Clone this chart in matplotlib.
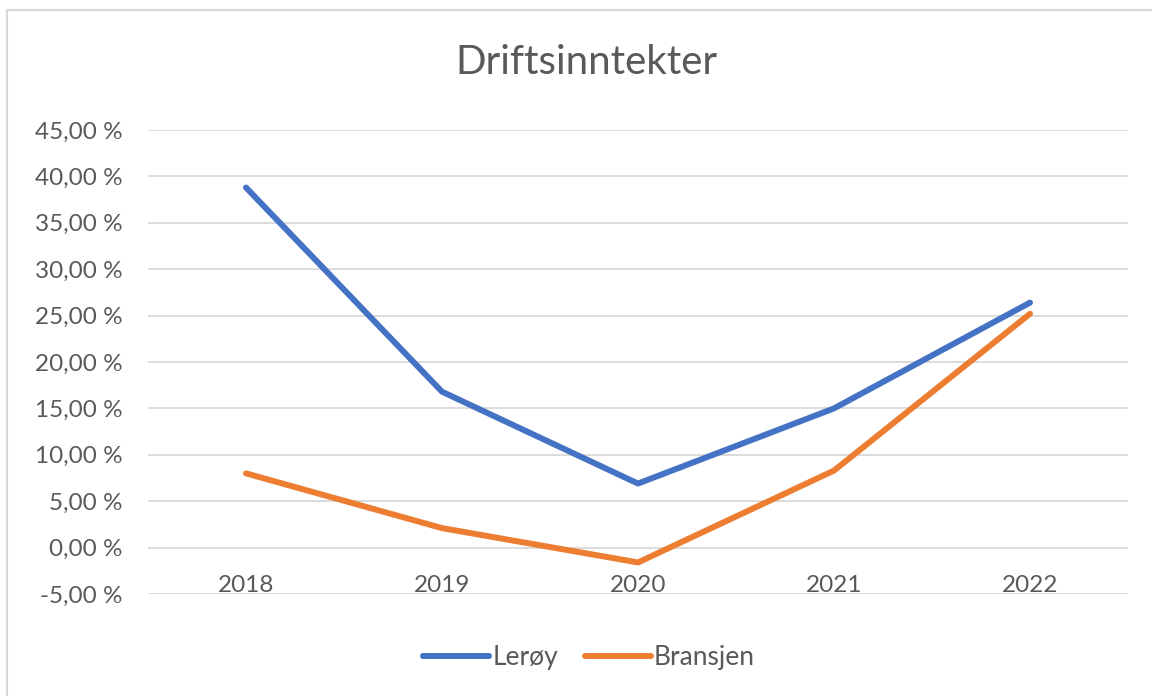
import matplotlib
matplotlib.use("Agg")
import matplotlib.pyplot as plt
from matplotlib.patches import Rectangle
from matplotlib.ticker import FuncFormatter

years = ["2018", "2019", "2020", "2021", "2022"]
leroy = [38.8, 16.8, 6.9, 15.0, 26.4]
bransjen = [8.0, 2.1, -1.6, 8.3, 25.2]
yticks = [-5, 0, 5, 10, 15, 20, 25, 30, 35, 40, 45]

plt.rcParams['font.family'] = ['Lato', 'DejaVu Sans']
txt = '#595959'

fig = plt.figure(figsize=(11.52, 6.96), dpi=100)
ax = fig.add_axes([148/1152, 1 - 594/696, (1128 - 148)/1152, (594 - 130)/696])

x = list(range(len(years)))
ax.plot(x, leroy, color='#4472C4', lw=4.3, solid_capstyle='round', solid_joinstyle='round', label='Lerøy', zorder=3)
ax.plot(x, bransjen, color='#ED7D31', lw=4.3, solid_capstyle='round', solid_joinstyle='round', label='Bransjen', zorder=3)

ax.set_xlim(-0.5, len(years) - 0.5)
ax.set_ylim(-5, 45)
ax.set_yticks(yticks)
ax.yaxis.set_major_formatter(FuncFormatter(lambda v, p: f"{v:.2f}".replace('.', ',') + " %"))
ax.grid(axis='y', color='#d9d9d9', lw=1.3)
ax.set_axisbelow(True)
for s in ax.spines.values():
    s.set_visible(False)
ax.spines['bottom'].set_position(('data', 0))
ax.set_xticks(x)
ax.set_xticklabels(years)
ax.tick_params(axis='x', length=0, pad=20, labelsize=17.5, labelcolor=txt)
ax.tick_params(axis='y', length=0, pad=18.5, labelsize=17.5, labelcolor=txt)

fig.text(586/1152, 1 - 63/696, "Driftsinntekter", ha='center', va='center', fontsize=29, color=txt)

leg = fig.legend(loc='center', bbox_to_anchor=(589/1152, 1 - 658/696), ncol=2, frameon=False,
                 fontsize=19, handlelength=2.5, handletextpad=0.12, columnspacing=1.0)
for t in leg.get_texts():
    t.set_color(txt)

# chart border
fig.add_artist(Rectangle((7/1152, -0.1), 1.2, 1 - 10/696 + 0.1, transform=fig.transFigure,
                         fill=False, edgecolor='#d9d9d9', lw=1.5))

fig.savefig('out.png', dpi=100, facecolor='white')
